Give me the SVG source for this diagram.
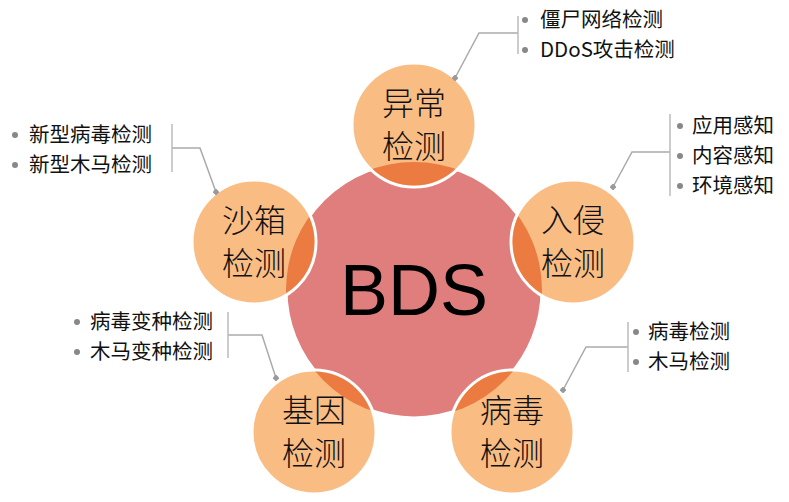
<svg xmlns="http://www.w3.org/2000/svg" width="789" height="502" viewBox="0 0 789 502">
<style>
.sm{fill:#F9BD84;stroke:#fff;stroke-width:3}
.ov{fill:#EB7B41}
.ct{font-family:"Noto Sans CJK SC",sans-serif;font-size:32px;fill:#111;text-anchor:middle;font-weight:300}
.lt{font-family:"Noto Sans CJK SC",sans-serif;font-size:20.5px;fill:#111}
.bl{fill:#888}
.cn{fill:none;stroke:#aaa;stroke-width:1.5}
.br{fill:none;stroke:#bbb;stroke-width:1.5}
</style>
<defs>
<clipPath id="big"><circle cx="414" cy="290" r="128"/></clipPath>
<marker id="dot" viewBox="0 0 6 6" refX="3" refY="3" markerWidth="6" markerHeight="6" markerUnits="userSpaceOnUse"><rect x="0.5" y="0.5" width="5" height="5" fill="#999" transform="rotate(45 3 3)"/></marker>
</defs>
<g id="center"><circle cx="414" cy="290" r="128" fill="#E07E7E" stroke="#fff" stroke-width="3"/>
<text x="414" y="315" font-family="Liberation Sans,sans-serif" font-size="72" text-anchor="middle" fill="#000">BDS</text></g>
<g id="n1"><circle class="sm" cx="414" cy="125" r="62"/><circle class="ov" cx="414" cy="125" r="60.5" clip-path="url(#big)"/>
<text class="ct" x="414" y="115">异常</text><text class="ct" x="414" y="158">检测</text></g>
<g id="n2"><circle class="sm" cx="573" cy="242" r="62"/><circle class="ov" cx="573" cy="242" r="60.5" clip-path="url(#big)"/>
<text class="ct" x="573" y="232">入侵</text><text class="ct" x="573" y="275">检测</text></g>
<g id="n3"><circle class="sm" cx="512" cy="432" r="62"/><circle class="ov" cx="512" cy="432" r="60.5" clip-path="url(#big)"/>
<text class="ct" x="512" y="422">病毒</text><text class="ct" x="512" y="465">检测</text></g>
<g id="n4"><circle class="sm" cx="314" cy="432" r="62"/><circle class="ov" cx="314" cy="432" r="60.5" clip-path="url(#big)"/>
<text class="ct" x="314" y="422">基因</text><text class="ct" x="314" y="465">检测</text></g>
<g id="n5"><circle class="sm" cx="254" cy="242" r="62"/><circle class="ov" cx="254" cy="242" r="60.5" clip-path="url(#big)"/>
<text class="ct" x="254" y="232">沙箱</text><text class="ct" x="254" y="275">检测</text></g>
<g id="connectors">
<path class="cn" d="M518 33H479L455 78" marker-end="url(#dot)"/>
<path class="br" d="M518 16V54"/>
<path class="cn" d="M670 152H632L613 187" marker-end="url(#dot)"/>
<path class="br" d="M670 114V196"/>
<path class="cn" d="M172 148H200L216 192" marker-end="url(#dot)"/>
<path class="br" d="M172 124V172"/>
<path class="cn" d="M228 335H262L276 378" marker-end="url(#dot)"/>
<path class="br" d="M228 312V358"/>
<path class="cn" d="M628 347H586L563 390" marker-end="url(#dot)"/>
<path class="br" d="M628 322V372"/>
</g>
<g id="labels">
<circle class="bl" cx="525" cy="20" r="3"/><text class="lt" x="540" y="27">僵尸网络检测</text>
<circle class="bl" cx="525" cy="50" r="3"/><text class="lt" x="540" y="57">DDoS攻击检测</text>
<circle class="bl" cx="680" cy="126" r="3"/><text class="lt" x="692" y="133">应用感知</text>
<circle class="bl" cx="680" cy="156" r="3"/><text class="lt" x="692" y="163">内容感知</text>
<circle class="bl" cx="680" cy="186" r="3"/><text class="lt" x="692" y="193">环境感知</text>
<circle class="bl" cx="15" cy="135" r="3"/><text class="lt" x="29" y="142">新型病毒检测</text>
<circle class="bl" cx="15" cy="165" r="3"/><text class="lt" x="29" y="172">新型木马检测</text>
<circle class="bl" cx="77" cy="322" r="3"/><text class="lt" x="90" y="329">病毒变种检测</text>
<circle class="bl" cx="77" cy="352" r="3"/><text class="lt" x="90" y="359">木马变种检测</text>
<circle class="bl" cx="636" cy="332" r="3"/><text class="lt" x="648" y="339">病毒检测</text>
<circle class="bl" cx="636" cy="362" r="3"/><text class="lt" x="648" y="369">木马检测</text>
</g>
</svg>
